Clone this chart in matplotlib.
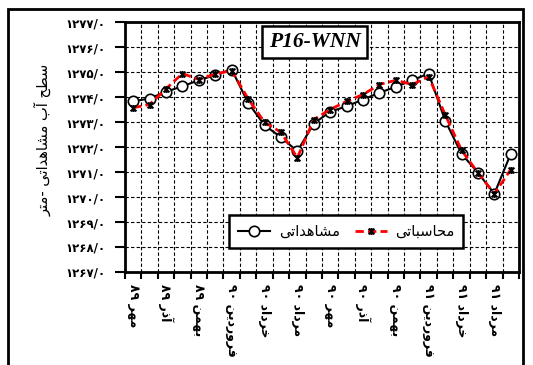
import numpy as np
import matplotlib
matplotlib.use('Agg')
import matplotlib.pyplot as plt
from matplotlib.path import Path
from matplotlib.patches import Rectangle

months = ['مهر ۸۹', 'آبان ۸۹', 'آذر ۸۹', 'دی ۸۹', 'بهمن ۸۹', 'اسفند ۸۹',
          'فروردین ۹۰', 'اردیبهشت ۹۰', 'خرداد ۹۰', 'تیر ۹۰', 'مرداد ۹۰', 'شهریور ۹۰',
          'مهر ۹۰', 'آبان ۹۰', 'آذر ۹۰', 'دی ۹۰', 'بهمن ۹۰', 'اسفند ۹۰',
          'فروردین ۹۱', 'اردیبهشت ۹۱', 'خرداد ۹۱', 'تیر ۹۱', 'مرداد ۹۱', 'شهریور ۹۱']
observed = [1273.83, 1273.94, 1274.21, 1274.43, 1274.67, 1274.88, 1275.10, 1273.77,
            1272.87, 1272.39, 1271.83, 1272.94, 1273.41, 1273.63, 1273.90, 1274.17,
            1274.41, 1274.67, 1274.94, 1273.06, 1271.73, 1270.97, 1270.13, 1271.73]
calculated = [1273.57, 1273.70, 1274.33, 1274.94, 1274.70, 1274.92, 1275.06, 1273.93,
              1272.99, 1272.59, 1271.57, 1273.10, 1273.50, 1273.83, 1274.10, 1274.50,
              1274.67, 1274.50, 1274.81, 1273.30, 1271.87, 1270.97, 1270.13, 1271.10]
y_ticks = np.arange(1267, 1278, 1)
label_obs = 'مشاهداتی'
label_calc = 'محاسباتی'
y_title = 'سطح آب مشاهداتی -متر'
box_title = 'P16-WNN'

# simple arabic/persian shaping (matplotlib has no bidi / joining)
FORMS = {
    'ا': ('\uFE8D', '\uFE8E', None, None), 'آ': ('\uFE81', '\uFE82', None, None),
    'د': ('\uFEA9', '\uFEAA', None, None), 'ذ': ('\uFEAB', '\uFEAC', None, None),
    'ر': ('\uFEAD', '\uFEAE', None, None), 'و': ('\uFEED', '\uFEEE', None, None),
    'ب': ('\uFE8F', '\uFE90', '\uFE91', '\uFE92'), 'ت': ('\uFE95', '\uFE96', '\uFE97', '\uFE98'),
    'ح': ('\uFEA1', '\uFEA2', '\uFEA3', '\uFEA4'), 'خ': ('\uFEA5', '\uFEA6', '\uFEA7', '\uFEA8'),
    'س': ('\uFEB1', '\uFEB2', '\uFEB3', '\uFEB4'), 'ش': ('\uFEB5', '\uFEB6', '\uFEB7', '\uFEB8'),
    'ط': ('\uFEC1', '\uFEC2', '\uFEC3', '\uFEC4'), 'ف': ('\uFED1', '\uFED2', '\uFED3', '\uFED4'),
    'م': ('\uFEE1', '\uFEE2', '\uFEE3', '\uFEE4'), 'ن': ('\uFEE5', '\uFEE6', '\uFEE7', '\uFEE8'),
    'ه': ('\uFEE9', '\uFEEA', '\uFEEB', '\uFEEC'), 'ی': ('\uFBFC', '\uFBFD', '\uFBFE', '\uFBFF'),
}


def shape_word(w):
    out = []
    for k, c in enumerate(w):
        if c not in FORMS:
            out.append(c)
            continue
        prev = w[k - 1] if k > 0 else ''
        nxt = w[k + 1] if k + 1 < len(w) else ''
        p = prev in FORMS and FORMS[prev][2] is not None
        n = nxt in FORMS and FORMS[c][2] is not None
        f = FORMS[c]
        out.append(f[3] if p and n else f[1] if p else f[2] if n else f[0])
    return out


def rtl(text):
    words = []
    for w in text.split(' '):
        if all('\u06F0' <= c <= '\u06F9' for c in w):
            words.append(w)
        else:
            words.append(''.join(reversed(shape_word(w))))
    return ' '.join(reversed(words))


def fa_num(v):
    s = f'{v:.1f}'.replace('.', '/')
    return ''.join(chr(0x06F0 + int(c)) if c.isdigit() else c for c in s)


plt.rcParams['font.family'] = ['DejaVu Sans']

star = Path([(-1, -1), (1, 1), (-1, 1), (1, -1), (0, -1.2), (0, 1.2)],
            [Path.MOVETO, Path.LINETO, Path.MOVETO, Path.LINETO, Path.MOVETO, Path.LINETO])

fig = plt.figure(figsize=(5.33, 3.65), dpi=100)
ax = fig.add_axes([0.2345, 0.2548, 0.7392, 0.6849])

x = np.arange(len(months))
ax.plot(x, observed, color='black', lw=1.5, marker='o', ms=7.5, mfc='white',
        mec='black', mew=1.2, label=rtl(label_obs), zorder=3)
ax.plot(x, calculated, color='red', lw=2, ls=(0, (3, 1.5)), marker=star, ms=5,
        mec='black', mew=1.5, label=rtl(label_calc), zorder=4)

ax.set_xlim(-0.5, len(months) - 0.5)
ax.set_ylim(y_ticks[0], y_ticks[-1])
ax.set_yticks(y_ticks)
ax.set_yticklabels([fa_num(v) for v in y_ticks], fontsize=8.5, fontweight='bold')

ax.set_xticks(np.arange(-0.5, len(months), 1))
ax.set_xticklabels([])
ax.set_xticks(x[::2], minor=True)
ax.set_xticklabels([rtl(m) for m in months[::2]], minor=True, rotation=-90,
                   fontsize=9, fontweight='bold', va='top', ha='center')
ax.tick_params(axis='x', which='minor', length=0, pad=9)
ax.tick_params(axis='both', which='major', direction='out', length=5, width=1.5)
ax.tick_params(axis='y', pad=7, length=7)

ax.grid(True, which='major', color='black', ls=(0, (3, 2)), lw=0.8)
for s in ax.spines.values():
    s.set_linewidth(2)

ax.set_ylabel(rtl(y_title), fontsize=10.5)
ax.yaxis.set_label_coords(-0.185, 0.53)

ax.text(0.482, 0.92, box_title, transform=ax.transAxes, ha='center', va='center',
        fontsize=15.5, fontweight='bold', fontstyle='italic', family='Liberation Serif',
        bbox=dict(boxstyle='square,pad=0.3', fc='white', ec='black', lw=1.8), zorder=5)

leg = ax.legend(loc='center', bbox_to_anchor=(0.562, 0.162), ncol=2, fontsize=10.5,
                fancybox=False, framealpha=1, edgecolor='black', handlelength=2.2,
                handletextpad=0.6, columnspacing=1.0, borderpad=0.6)
leg.get_frame().set_linewidth(1.8)

fig.patches.append(Rectangle((8 / 533, -0.05), 515 / 533, 1.05 - 9 / 365,
                             transform=fig.transFigure, fill=False, ec='black', lw=2))

fig.savefig('out.png', dpi=100)
